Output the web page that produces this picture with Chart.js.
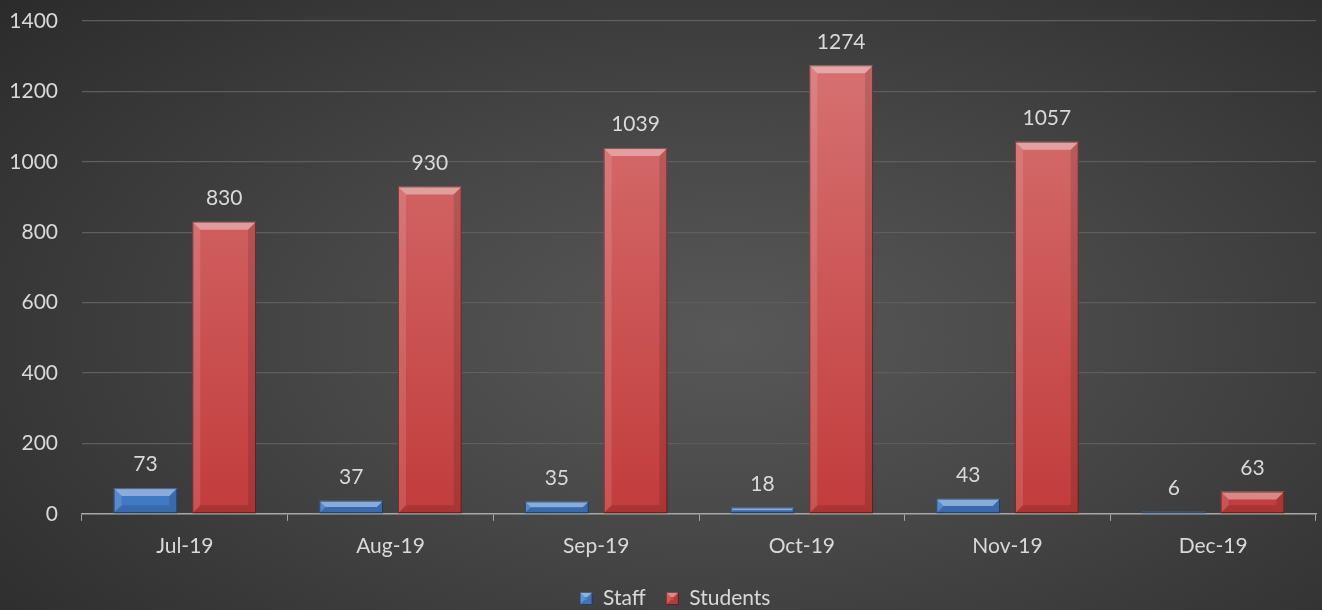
<!DOCTYPE html>
<html><head><meta charset="utf-8">
<script src="https://cdn.jsdelivr.net/npm/chart.js@4/dist/chart.umd.min.js"></script>
<style>
html,body{margin:0;padding:0;}
body{width:1322px;height:610px;overflow:hidden;background:radial-gradient(ellipse 75% 85% at 55% 55%, #585858 0%, #474747 40%, #2a2a2a 100%);}
#wrap{position:relative;width:1322px;height:610px;}
</style></head>
<body><div id="wrap"><canvas id="c" width="1322" height="610"></canvas></div>
<script>
const categories = ["Jul-19","Aug-19","Sep-19","Oct-19","Nov-19","Dec-19"];
const staffValues = [73,37,35,18,43,6];
const studentValues = [830,930,1039,1274,1057,63];
const yTicks = [0,200,400,600,800,1000,1200,1400];

const FONT = "Lato, 'Open Sans', sans-serif";
const TEXT = "#d9d9d9";
const FS = 21;

function grad(base1, base2){
  return (ctx)=>{
    const area = ctx.chart.chartArea;
    if(!area) return base2;
    const g = ctx.chart.ctx.createLinearGradient(0, area.top, 0, area.bottom);
    g.addColorStop(0, base1); g.addColorStop(1, base2);
    return g;
  };
}

function drawBevel(c, l, t, width, h, s){
  const r = l+width, b = t+h;
  c.fillStyle='rgba(255,255,255,0.38)';
  c.beginPath(); c.moveTo(l,t); c.lineTo(r,t); c.lineTo(r-s,t+s); c.lineTo(l+s,t+s); c.closePath(); c.fill();
  c.fillStyle='rgba(255,255,255,0.12)';
  c.beginPath(); c.moveTo(l,t); c.lineTo(l+s,t+s); c.lineTo(l+s,b-s); c.lineTo(l,b); c.closePath(); c.fill();
  c.fillStyle='rgba(0,0,0,0.12)';
  c.beginPath(); c.moveTo(r,t); c.lineTo(r-s,t+s); c.lineTo(r-s,b-s); c.lineTo(r,b); c.closePath(); c.fill();
  c.fillStyle='rgba(0,0,0,0.12)';
  c.beginPath(); c.moveTo(l,b); c.lineTo(l+s,b-s); c.lineTo(r-s,b-s); c.lineTo(r,b); c.closePath(); c.fill();
  c.strokeStyle='rgba(0,0,0,0.45)'; c.lineWidth=1;
  c.strokeRect(l+0.5,t+0.5,width-1,h-1);
}

function legendIcon(color){
  const cv = document.createElement('canvas'); cv.width=13; cv.height=13;
  const c = cv.getContext('2d');
  c.fillStyle=color; c.fillRect(0,0,13,13);
  drawBevel(c,0,0,13,13,5);
  return cv;
}

const bevel = {
  id:'bevel',
  afterDatasetsDraw(chart){
    const c = chart.ctx;
    chart.data.datasets.forEach((ds,i)=>{
      const meta = chart.getDatasetMeta(i);
      meta.data.forEach(el=>{
        const {x,y,base,width} = el.getProps(['x','y','base','width'],true);
        const l = x-width/2, t = Math.min(y,base), b = Math.max(y,base);
        const h = b-t; const s = Math.min(8, h/2, width/2);
        if(h<=0) return;
        c.save(); drawBevel(c,l,t,width,h,s); c.restore();
      });
    });
  }
};

const labels = {
  id:'labels',
  afterDatasetsDraw(chart){
    const c = chart.ctx;
    c.save();
    c.font = FS + "px " + FONT;
    c.fillStyle = TEXT;
    c.textAlign='center'; c.textBaseline='bottom';
    chart.data.datasets.forEach((ds,i)=>{
      const meta = chart.getDatasetMeta(i);
      meta.data.forEach((el,j)=>{
        c.fillText(String(ds.data[j]), el.x, el.y-13);
      });
    });
    c.restore();
  }
};

const legendShift = {
  id:'legendShift',
  afterLayout(chart){
    const lg = chart.legend;
    if(lg && !lg._shifted){
      const orig = lg.draw.bind(lg);
      lg.draw = function(){ const c = chart.ctx; c.save(); c.translate(12,-2); orig(); c.restore(); };
      lg._shifted = true;
    }
  }
};

new Chart(document.getElementById('c'),{
  type:'bar',
  data:{
    labels:categories,
    datasets:[
      {label:'Staff', data:staffValues, backgroundColor:grad('#6f9fe0','#3f78c4'), borderWidth:0,
       pointStyle:legendIcon('#4a82cf'), categoryPercentage:0.765, barPercentage:0.81},
      {label:'Students', data:studentValues, backgroundColor:grad('#d87676','#c23c3c'), borderWidth:0,
       pointStyle:legendIcon('#c94646'), categoryPercentage:0.765, barPercentage:0.81}
    ]
  },
  options:{
    responsive:false, animation:false,
    layout:{padding:{left:10,right:6,top:0,bottom:-11}},
    scales:{
      x:{
        grid:{display:true, drawOnChartArea:false, drawTicks:true, tickLength:7, color:'#a6a6a6', offset:true},
        border:{display:true, color:'#a6a6a6', width:1.5},
        ticks:{color:TEXT, font:{family:FONT,size:FS}, padding:13},
        afterFit(scale){ scale.height -= 2; scale.paddingLeft = 0; scale.paddingRight = 0; }
      },
      y:{
        min:0, max:1400,
        afterBuildTicks(axis){ axis.ticks = yTicks.map(v=>({value:v})); },
        grid:{color:'#5e5e5e', lineWidth:1.2, drawTicks:false},
        border:{display:false},
        ticks:{color:TEXT, font:{family:FONT,size:FS}, padding:24, callback:(v)=>String(v)},
        afterFit(scale){ scale.width = 72; scale.paddingTop = 21; scale.paddingBottom = 0; }
      }
    },
    plugins:{
      legend:{position:'bottom', labels:{color:TEXT, font:{family:FONT,size:FS}, usePointStyle:true, boxWidth:13, boxHeight:13, padding:20}},
      tooltip:{enabled:false}
    }
  },
  plugins:[bevel,labels,legendShift]
});
</script></body></html>
